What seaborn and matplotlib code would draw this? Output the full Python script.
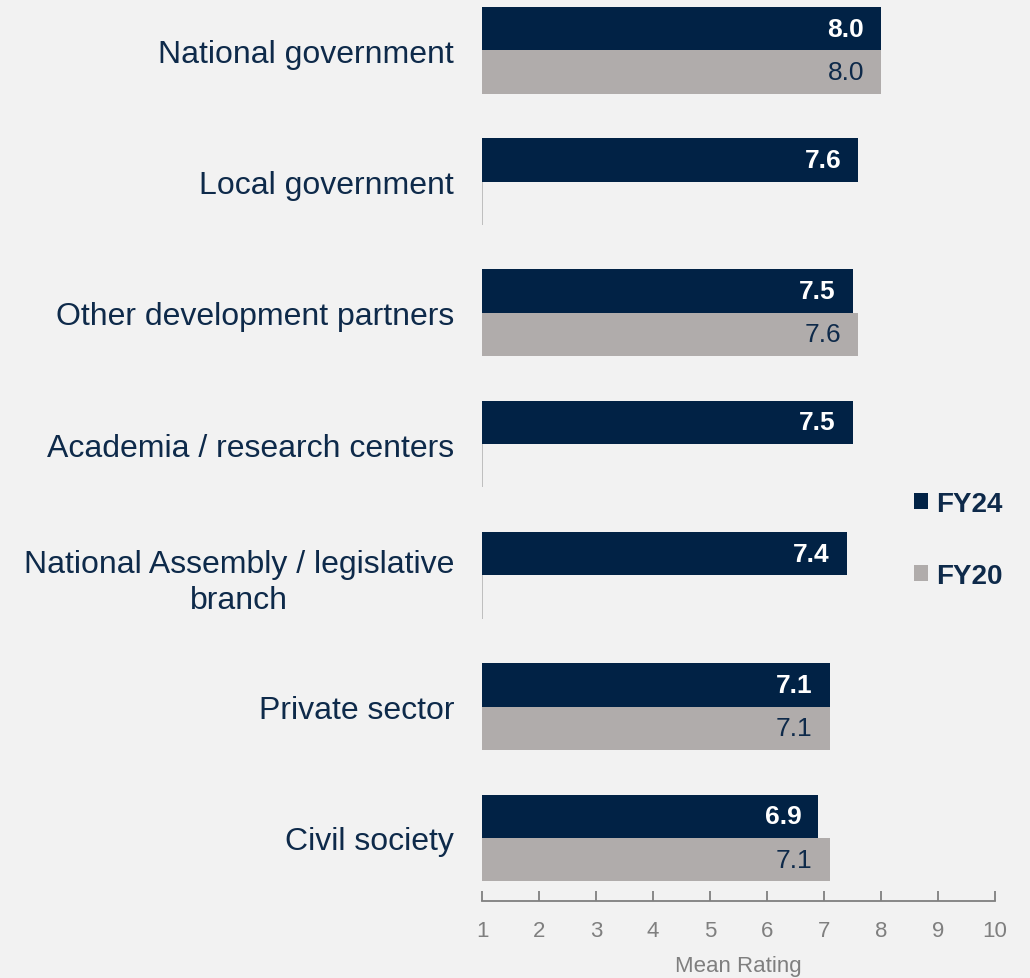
import numpy as np
import pandas as pd
import matplotlib
matplotlib.use("Agg")
import matplotlib.pyplot as plt
import seaborn as sns
from matplotlib.patches import Patch

categories = ["National government", "Local government", "Other development partners",
              "Academia / research centers", "National Assembly / legislative\nbranch",
              "Private sector", "Civil society"]
fy24 = [8.0, 7.6, 7.5, 7.5, 7.4, 7.1, 6.9]
fy20 = [8.0, np.nan, 7.6, np.nan, np.nan, 7.1, 7.1]
series = ["FY24", "FY20"]
ticks = list(range(1, 11))

NAVY = "#012245"
GRAY = "#b0acab"
BG = "#f2f2f2"
TXT = "#0e2a4a"
AX = "#7f7f7f"

sns.set_theme(style="white")
plt.rcParams['font.family'] = ['Liberation Sans', 'DejaVu Sans']

df = pd.DataFrame({
    "cat": categories * 2,
    "val": fy24 + fy20,
    "series": ["FY24"] * len(categories) + ["FY20"] * len(categories),
})

fig = plt.figure(figsize=(10.30, 9.79), dpi=100, facecolor=BG)
ax = fig.add_axes([482 / 1030, 77 / 979, (995 - 482) / 1030, 902 / 979])
ax.set_facecolor(BG)

sns.barplot(data=df.dropna(), y="cat", x="val", hue="series", order=categories,
            hue_order=series, palette=[NAVY, GRAY], width=0.66, orient="h",
            ax=ax, legend=False, saturation=1, linewidth=0)

ax.set_xlim(1, 10)
ax.set_ylim(6.48, -0.39)
ax.set_xticks(ticks)
ax.set_xticklabels([str(t) for t in ticks])

# value labels
for cont, col, weight in zip(ax.containers, ["white", TXT], ["bold", "normal"]):
    for p in cont:
        w = p.get_width()
        if np.isnan(w):
            continue
        ax.annotate(f"{w:.1f}", xy=(w, p.get_y() + p.get_height() / 2),
                    xytext=(-17, 0), textcoords="offset pixels",
                    ha="right", va="center", color=col, fontsize=19, fontweight=weight)

# zero-width markers for missing FY20
bh = 0.33
for i, v in enumerate(fy20):
    if np.isnan(v):
        ax.vlines(ax.get_xlim()[0], i, i + bh, color="#b5b5b5", lw=1.2, zorder=3)

for s in ["top", "right", "left"]:
    ax.spines[s].set_visible(False)
ax.spines["bottom"].set_color(AX)
ax.spines["bottom"].set_linewidth(1.3)
ax.tick_params(axis="x", direction="in", length=7, width=1.3, color=AX,
               labelcolor=AX, labelsize=16, pad=14, bottom=True)
ax.tick_params(axis="y", length=0, labelsize=23, labelcolor=TXT, pad=20)
for lab in ax.get_yticklabels():
    lab.set_horizontalalignment("right")
    lab.set_multialignment("center")
    lab.set_linespacing(1.25)
ax.set_ylabel("")
ax.set_xlabel("Mean Rating", color=AX, fontsize=16, labelpad=10)

handles = [Patch(facecolor=NAVY, linewidth=0), Patch(facecolor=GRAY, linewidth=0)]
leg = fig.legend(handles, series, loc="center left", bbox_to_anchor=(889 / 1030, 1 - 541 / 979),
                 frameon=False, handlelength=0.5, handleheight=0.5, handletextpad=0.3,
                 labelspacing=1.65, prop={"size": 20, "weight": "bold"})
for t in leg.get_texts():
    t.set_color(TXT)

fig.savefig("out.png", dpi=100, facecolor=BG)
